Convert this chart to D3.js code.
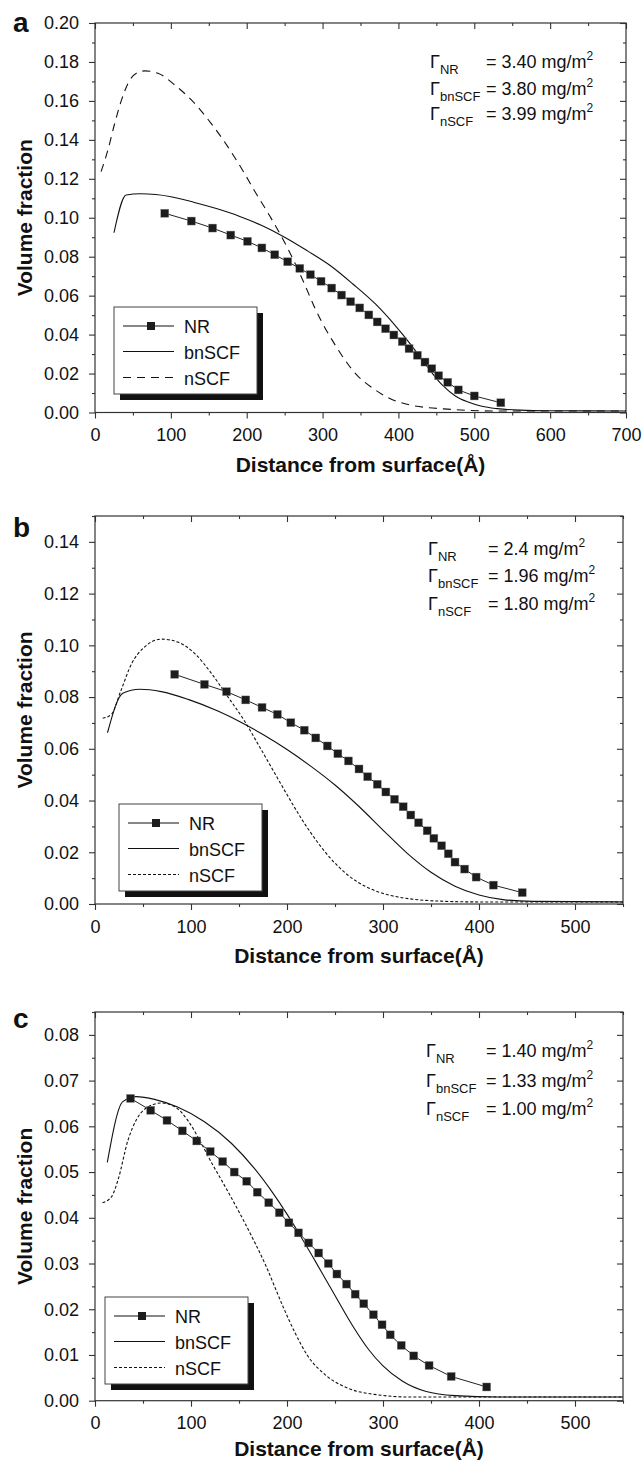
<!DOCTYPE html>
<html>
<head>
<meta charset="utf-8">
<script src="https://cdn.jsdelivr.net/npm/d3@7"></script>
<style>
  body { margin: 0; background: #fff; }
  svg { display: block; font-family: "Liberation Sans", Arial, sans-serif; }
</style>
</head>
<body>
<div class="chart"></div>
<script>
// ---- data: [distance (Å), volume fraction] ----
const nrA = [[92,0.1023],[127,0.0983],[155,0.0947],[179,0.0911],[201,0.0879],[220,0.0845],[237,0.0810],[254,0.0774],[270,0.0740],[284,0.0708],[298,0.0674],[312,0.0639],[325,0.0603],[337,0.0569],[349,0.0537],[361,0.0501],[372,0.0465],[383,0.0430],[394,0.0398],[405,0.0364],[414,0.0328],[425,0.0294],[435,0.0259],[444,0.0225],[453,0.0189],[465,0.0155],[479,0.0116],[500,0.0085],[535,0.0050]];
const bnA = [[25,0.0923],[41,0.1117],[60,0.1123],[80,0.1119],[100,0.1108],[130,0.1080],[160,0.1047],[190,0.1008],[220,0.0960],[250,0.0900],[280,0.0830],[310,0.0755],[340,0.0660],[370,0.0556],[395,0.0450],[415,0.0355],[437,0.0240],[458,0.0140],[475,0.0085],[491,0.0055],[510,0.0032],[530,0.0020],[560,0.0012],[600,0.0009],[700,0.0008]];
const nsA = [[8,0.1237],[17,0.1348],[26,0.1485],[35,0.1605],[43.5,0.1690],[54.5,0.1742],[65.5,0.1754],[83,0.1742],[105,0.1682],[127,0.1605],[153,0.1485],[175,0.1365],[197,0.1228],[210,0.1140],[231,0.1005],[253,0.0851],[275,0.0670],[290,0.0535],[318,0.0338],[345,0.0193],[366.5,0.0124],[388,0.0073],[415,0.0039],[469,0.0016],[523,0.0008],[700,0.0008]];

const nrB = [[83,0.0888],[114,0.0849],[137,0.0821],[157,0.0789],[174,0.0760],[190,0.0733],[204,0.0701],[218,0.0672],[230,0.0642],[242,0.0611],[253,0.0581],[264,0.0553],[275,0.0522],[284,0.0492],[294,0.0463],[303,0.0433],[312,0.0405],[321,0.0376],[329,0.0344],[337,0.0314],[346,0.0283],[353,0.0254],[361,0.0225],[368,0.0194],[375,0.0162],[385,0.0135],[397,0.0104],[415,0.0073],[445,0.0044]];
const bnB = [[13,0.0662],[29,0.0815],[46.5,0.0830],[69,0.0821],[97,0.0791],[128,0.0746],[152,0.0703],[175,0.0655],[200,0.0597],[225,0.0532],[250,0.0460],[275,0.0377],[300,0.0286],[325,0.0197],[350,0.0123],[375,0.0069],[400,0.0035],[425,0.0017],[456,0.0010],[550,0.0008]];
const nsB = [[8,0.0718],[17,0.0733],[27,0.0825],[38,0.0928],[52,0.0995],[69,0.1024],[86,0.1013],[104,0.0968],[121,0.0893],[138,0.0803],[155,0.0712],[170,0.0617],[185,0.0520],[200,0.0423],[215,0.0330],[230,0.0248],[245,0.0178],[264,0.0110],[285,0.0062],[307,0.0034],[330,0.0019],[360,0.0011],[400,0.0008],[550,0.0008]];

const nrC = [[37,0.0661],[58,0.0635],[75,0.0613],[91,0.0590],[106,0.0568],[120,0.0545],[133,0.0523],[145,0.0500],[158,0.0480],[169,0.0456],[181,0.0433],[192,0.0411],[202,0.0389],[212,0.0367],[222.5,0.0345],[233,0.0323],[243,0.0300],[252,0.0277],[262,0.0255],[271,0.0233],[280,0.0212],[290,0.0188],[299,0.0166],[307.5,0.0144],[319,0.0121],[332,0.0098],[348,0.0077],[371,0.0053],[408,0.0030]];
const bnC = [[12.8,0.0521],[29,0.0654],[43,0.0665],[62,0.0659],[86,0.0642],[114,0.0610],[142,0.0563],[166,0.0508],[185,0.0455],[200,0.0408],[215,0.0357],[230,0.0303],[250,0.0230],[268,0.0165],[285,0.0112],[300,0.0076],[320,0.0043],[345,0.0020],[375,0.0011],[420,0.0008],[550,0.0008]];
const nsC = [[7.8,0.0433],[17.2,0.0446],[24,0.0483],[34.4,0.0570],[43,0.0614],[53.4,0.0640],[69,0.0651],[83,0.0643],[97,0.0612],[110.7,0.0563],[121,0.0522],[131.6,0.0483],[157,0.0385],[178,0.0295],[196,0.0205],[208,0.0150],[221,0.0100],[242,0.0053],[264,0.0027],[294,0.0013],[328,0.0008],[550,0.0008]];

const legendNames = ["NR", "bnSCF", "nSCF"];
const gammaA = [["NR", "3.40"], ["bnSCF", "3.80"], ["nSCF", "3.99"]];
const gammaB = [["NR", "2.4"], ["bnSCF", "1.96"], ["nSCF", "1.80"]];
const gammaC = [["NR", "1.40"], ["bnSCF", "1.33"], ["nSCF", "1.00"]];

const W = 643, H = 1463;
const svg = d3.select('.chart').append('svg')
    .attr('width', W).attr('height', H)
    .attr('viewBox', [0, 0, W, H]);

const panels = [
  { label: "a", top: 23, bottom: 412.5, left: 95, right: 626, xMax: 700, yMax: 0.20, yStep: 0.02,
    nr: nrA, bn: bnA, ns: nsA, dash: "8,6", gamma: gammaA,
    gx: 430, ex: 486, gy: [68, 94.5, 120], legX: 114, legY: 307, labY: 32, titleY: 472 },
  { label: "b", top: 516, bottom: 904, left: 95, right: 623, xMax: 550, yMax: 0.15, yStep: 0.02,
    nr: nrB, bn: bnB, ns: nsB, dash: "3,2", gamma: gammaB,
    gx: 428, ex: 488, gy: [555, 582, 610], legX: 119, legY: 804, labY: 537, titleY: 963 },
  { label: "c", top: 1012, bottom: 1400.7, left: 95, right: 623, xMax: 550, yMax: 0.085, yStep: 0.01,
    nr: nrC, bn: bnC, ns: nsC, dash: "3,2", gamma: gammaC,
    gx: 426, ex: 486, gy: [1057, 1087, 1115], legX: 105, legY: 1297, labY: 1028, titleY: 1456 }
];

panels.forEach(drawPanel);

function drawPanel(p) {
  const x = d3.scaleLinear().domain([0, p.xMax]).range([p.left, p.right]);
  const y = d3.scaleLinear().domain([0, p.yMax]).range([p.bottom, p.top]);

  const majX = d3.range(0, p.xMax + 1, 100);
  const minX = d3.range(50, p.xMax + 1, 100);
  const majY = d3.range(0, Math.floor(p.yMax / p.yStep + 1e-6) + 1).map(i => +(i * p.yStep).toFixed(3));
  const minY = d3.range(0, Math.floor(p.yMax / (p.yStep / 2) + 1e-6) + 1)
      .map(i => +(i * p.yStep / 2).toFixed(4))
      .filter(v => !majY.some(m => Math.abs(m - v) < 1e-6));

  const g = svg.append('g');

  // axes, bottom/left outward with labels, top/right inward
  const styleAxis = sel => {
    sel.select('.domain').remove();
    sel.selectAll('line').attr('stroke', '#333').attr('stroke-width', 1.1);
    sel.selectAll('text').attr('fill', '#111').style('font-size', '18px')
        .style('font-family', '"Liberation Sans", Arial, sans-serif');
  };

  g.append('g').attr('transform', `translate(0,${p.bottom})`)
    .call(d3.axisBottom(x).tickValues(majX).tickSize(6).tickPadding(10).tickFormat(d3.format('d')))
    .call(styleAxis);
  g.append('g').attr('transform', `translate(0,${p.bottom})`)
    .call(d3.axisBottom(x).tickValues(minX).tickSize(3).tickFormat(''))
    .call(styleAxis);
  g.append('g').attr('transform', `translate(${p.left},0)`)
    .call(d3.axisLeft(y).tickValues(majY).tickSize(6).tickPadding(10).tickFormat(d3.format('.2f')))
    .call(styleAxis);
  g.append('g').attr('transform', `translate(${p.left},0)`)
    .call(d3.axisLeft(y).tickValues(minY).tickSize(3).tickFormat(''))
    .call(styleAxis);
  g.append('g').attr('transform', `translate(0,${p.top})`)
    .call(d3.axisTop(x).tickValues(majX).tickSize(-6).tickFormat(''))
    .call(styleAxis);
  g.append('g').attr('transform', `translate(0,${p.top})`)
    .call(d3.axisTop(x).tickValues(minX).tickSize(-3).tickFormat(''))
    .call(styleAxis);
  g.append('g').attr('transform', `translate(${p.right},0)`)
    .call(d3.axisRight(y).tickValues(majY).tickSize(-6).tickFormat(''))
    .call(styleAxis);
  g.append('g').attr('transform', `translate(${p.right},0)`)
    .call(d3.axisRight(y).tickValues(minY).tickSize(-3).tickFormat(''))
    .call(styleAxis);

  g.append('rect')
    .attr('x', p.left).attr('y', p.top)
    .attr('width', p.right - p.left).attr('height', p.bottom - p.top)
    .attr('fill', 'none').attr('stroke', '#333').attr('stroke-width', 1.2);

  // curves
  const line = d3.line().x(d => x(d[0])).y(d => y(d[1])).curve(d3.curveMonotoneX);
  const straight = d3.line().x(d => x(d[0])).y(d => y(d[1]));

  g.append('path').datum(p.ns).attr('d', line)
    .attr('fill', 'none').attr('stroke', '#111').attr('stroke-width', 1.1)
    .attr('stroke-dasharray', p.dash);
  g.append('path').datum(p.bn).attr('d', line)
    .attr('fill', 'none').attr('stroke', '#111').attr('stroke-width', 1.1);
  g.append('path').datum(p.nr).attr('d', straight)
    .attr('fill', 'none').attr('stroke', '#222').attr('stroke-width', 1);
  g.selectAll('.nr').data(p.nr).join('rect')
    .attr('class', 'nr')
    .attr('x', d => x(d[0]) - 4).attr('y', d => y(d[1]) - 4)
    .attr('width', 8).attr('height', 8)
    .attr('fill', '#1c1c1c').attr('stroke', '#888').attr('stroke-width', 0.4);

  // legend with drop shadow
  const leg = g.append('g').attr('transform', `translate(${p.legX},${p.legY})`);
  leg.append('rect').attr('x', 6).attr('y', 6).attr('width', 143).attr('height', 87).attr('fill', '#111');
  leg.append('rect').attr('x', 0).attr('y', 0).attr('width', 143).attr('height', 87)
    .attr('fill', '#fff').attr('stroke', '#444').attr('stroke-width', 1);
  const rows = [19, 44.5, 70.5];
  legendNames.forEach((name, i) => {
    const ly = rows[i];
    const l = leg.append('line').attr('x1', 9).attr('x2', 60).attr('y1', ly).attr('y2', ly)
      .attr('stroke', '#111').attr('stroke-width', 1.1);
    if (i === 2) l.attr('stroke-dasharray', p.dash);
    if (i === 0) leg.append('rect').attr('x', 37 - 4).attr('y', ly - 4).attr('width', 8).attr('height', 8).attr('fill', '#1c1c1c');
    leg.append('text').attr('x', 70).attr('y', ly + 7).text(name)
      .style('font-size', '18px').attr('fill', '#111');
  });

  // surface excess annotations
  p.gamma.forEach((d, i) => {
    const t = g.append('text').attr('y', p.gy[i]).style('font-size', '18px').attr('fill', '#111');
    t.append('tspan').attr('x', p.gx).text('\u0393');
    t.append('tspan').attr('dy', 6).style('font-size', '13px').text(d[0]);
    const t2 = g.append('text').attr('x', p.ex).attr('y', p.gy[i]).style('font-size', '18px').attr('fill', '#111');
    t2.append('tspan').text(`= ${d[1]} mg/m`);
    t2.append('tspan').attr('dy', -8).style('font-size', '12px').text('2');
  });

  // titles
  g.append('text')
    .attr('transform', `translate(32,${(p.top + p.bottom) / 2}) rotate(-90)`)
    .attr('text-anchor', 'middle')
    .style('font-size', '21px').style('font-weight', 'bold').attr('fill', '#111')
    .text('Volume fraction');
  g.append('text')
    .attr('x', (p.left + p.right) / 2).attr('y', p.titleY)
    .attr('text-anchor', 'middle')
    .style('font-size', '21px').style('font-weight', 'bold').attr('fill', '#111')
    .text('Distance from surface(\u00c5)');
  g.append('text')
    .attr('x', 13).attr('y', p.labY)
    .style('font-size', '28px').style('font-weight', 'bold').attr('fill', '#111')
    .text(p.label);
}
</script>
</body>
</html>
